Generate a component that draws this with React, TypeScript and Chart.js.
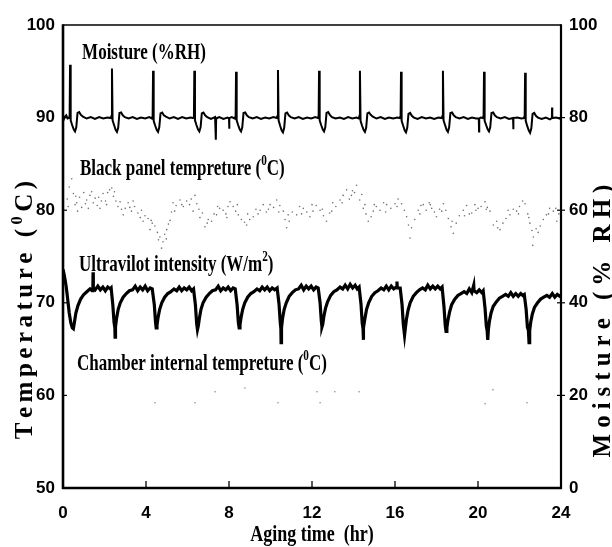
import { useEffect, useRef } from "react";
import { Chart, registerables } from "chart.js";

Chart.register(...registerables);

// ---------------- data ----------------
const X_TICKS = [0, 4, 8, 12, 16, 20, 24];
const TEMP_TICKS = [50, 60, 70, 80, 90, 100];
const RH_TICKS = [0, 20, 40, 60, 80, 100];

// Moisture (%RH) – right axis [hour, %RH]
const moisture: [number, number][] = [
  [0.00,80.4],[0.05,79.7],[0.10,80.2],[0.16,80.5],[0.22,79.8],[0.28,79.9],[0.32,80.4],[0.34,91.4],[0.37,79.4],[0.44,78.4],[0.52,77.4],[0.58,77.0],[0.64,77.9],[0.70,81.0],[0.78,81.2],[0.86,80.6],[0.96,80.2],[1.14,79.8],[1.34,80.1],[1.54,79.7],[1.74,80.1],[1.94,79.8],[2.14,80.0],
  [2.30,79.9],[2.34,80.4],[2.36,90.6],[2.39,79.4],[2.46,78.4],[2.54,77.3],[2.60,76.9],[2.66,77.8],[2.72,81.0],[2.80,81.1],[2.88,80.5],[2.98,80.1],[3.16,79.8],[3.36,80.1],[3.56,79.7],[3.76,80.0],[3.96,79.8],[4.16,80.1],
  [4.28,79.8],[4.32,80.4],[4.34,90.1],[4.37,79.3],[4.44,78.3],[4.52,77.3],[4.58,76.9],[4.64,77.9],[4.70,80.9],[4.78,81.1],[4.86,80.5],[4.96,80.2],[5.14,79.8],[5.34,80.1],[5.54,79.7],[5.74,80.1],[5.94,79.8],[6.14,80.0],
  [6.27,79.9],[6.31,80.4],[6.33,90.1],[6.36,79.4],[6.43,78.4],[6.51,77.4],[6.57,77.0],[6.63,77.9],[6.69,80.9],[6.77,81.1],[6.85,80.5],[6.95,80.1],[7.13,79.7],[7.33,80.1],[7.36,79.8],[7.37,75.2],[7.38,79.8],[7.53,80.1],[7.73,79.7],[7.93,80.0],[8.00,79.8],[8.01,77.6],[8.02,79.9],[8.13,80.1],
  [8.28,79.8],[8.32,80.4],[8.34,89.9],[8.37,79.4],[8.44,78.4],[8.52,77.4],[8.58,77.0],[8.64,77.9],[8.70,81.0],[8.78,81.1],[8.86,80.5],[8.96,80.1],[9.14,79.8],[9.34,80.1],[9.54,79.7],[9.74,80.0],[9.94,79.8],[10.14,80.1],
  [10.30,79.9],[10.34,80.4],[10.36,90.3],[10.39,79.4],[10.46,78.3],[10.54,77.2],[10.60,76.8],[10.66,77.8],[10.72,80.9],[10.80,81.1],[10.88,80.5],[10.98,80.1],[11.16,79.8],[11.36,80.1],[11.56,79.7],[11.76,80.0],[11.96,79.8],[12.16,80.1],
  [12.28,79.9],[12.32,80.4],[12.34,90.1],[12.37,79.4],[12.44,78.4],[12.52,77.4],[12.58,77.0],[12.64,77.9],[12.70,81.0],[12.78,81.2],[12.86,80.6],[12.96,80.1],[13.14,79.8],[13.34,80.0],[13.54,79.7],[13.74,80.1],[13.94,79.8],[14.14,80.0],
  [14.25,79.8],[14.29,80.4],[14.31,90.1],[14.34,79.3],[14.41,78.3],[14.49,77.3],[14.55,76.9],[14.61,77.8],[14.67,80.9],[14.75,81.1],[14.83,80.6],[14.93,80.2],[15.11,79.8],[15.31,80.1],[15.51,79.7],[15.71,80.0],[15.91,79.8],[16.11,80.0],
  [16.23,79.9],[16.27,80.4],[16.29,89.9],[16.32,79.3],[16.39,78.3],[16.47,77.2],[16.53,76.8],[16.59,77.8],[16.65,80.8],[16.73,81.0],[16.81,80.4],[16.91,80.0],[17.09,79.7],[17.29,80.1],[17.49,79.8],[17.69,80.0],[17.89,79.7],[18.09,80.0],
  [18.25,79.9],[18.29,80.4],[18.31,90.1],[18.34,79.4],[18.41,78.4],[18.49,77.3],[18.55,76.9],[18.61,77.9],[18.67,81.0],[18.75,81.1],[18.83,80.5],[18.93,80.1],[19.11,79.8],[19.31,80.1],[19.51,79.7],[19.71,80.0],[19.91,79.8],[20.04,79.8],[20.05,77.0],[20.06,79.8],[20.13,80.0],
  [20.23,79.9],[20.27,80.4],[20.29,89.9],[20.32,79.3],[20.39,78.4],[20.47,77.4],[20.53,77.0],[20.59,77.9],[20.65,81.0],[20.73,81.1],[20.81,80.5],[20.91,80.1],[21.09,79.8],[21.29,80.1],[21.49,79.7],[21.69,79.9],[21.70,77.5],[21.71,79.9],[21.89,80.0],[22.09,79.8],
  [22.21,79.9],[22.25,80.4],[22.27,89.7],[22.30,79.3],[22.37,78.2],[22.45,77.2],[22.51,76.7],[22.57,77.7],[22.63,80.8],[22.71,81.0],[22.79,80.4],[22.89,80.0],[23.07,79.7],[23.27,80.0],[23.47,79.6],[23.56,79.9],[23.57,82.2],[23.58,79.9],[23.77,80.0],[24.00,79.7],
];

// Ultraviolet intensity – drawn on left axis scale [hour, value]
const uvIntensity: [number, number][] = [
  [0,73.6],[0.05,73.1],[0.1,72.5],[0.15,71.8],[0.2,70.9],[0.25,69.9],[0.3,68.9],[0.38,67.8],[0.45,67.3],[0.5,67.2],[0.55,67.9],[0.62,68.9],[0.72,69.7],[0.85,70.4],[1.0,70.9],[1.15,71.2],[1.3,71.5],[1.4,71.3],[1.44,71.6],[1.45,73.3],[1.46,71.6],[1.55,71.4],[1.68,71.8],[1.8,71.4],[1.92,71.7],[2.04,71.3],[2.16,71.7],[2.28,71.5],
  [2.32,71.6],[2.40,69.8],[2.46,67.9],[2.50,67.3],[2.51,66.3],[2.53,67.4],[2.58,68.3],[2.66,69.3],[2.76,70.0],[2.9,70.6],[3.05,71.0],[3.2,71.3],[3.35,71.4],[3.48,71.8],[3.6,71.3],[3.72,71.7],[3.84,71.4],[3.96,71.8],[4.08,71.3],[4.2,71.6],[4.3,71.5],
  [4.40,69.8],[4.46,67.9],[4.49,67.3],[4.53,67.6],[4.58,68.4],[4.66,69.3],[4.76,70.0],[4.9,70.6],[5.05,71.0],[5.2,71.2],[5.35,71.5],[5.48,71.3],[5.6,71.7],[5.72,71.3],[5.84,71.6],[5.96,71.4],[6.08,71.7],[6.2,71.3],[6.29,71.5],
  [6.38,69.8],[6.44,67.8],[6.48,67.1],[6.52,67.5],[6.57,68.3],[6.65,69.3],[6.75,70.0],[6.9,70.6],[7.05,71.0],[7.2,71.3],[7.35,71.4],[7.48,71.8],[7.6,71.3],[7.72,71.6],[7.84,71.4],[7.96,71.7],[8.08,71.3],[8.2,71.6],[8.3,71.5],
  [8.39,69.8],[8.45,67.9],[8.49,67.3],[8.53,67.6],[8.58,68.4],[8.66,69.3],[8.76,70.0],[8.9,70.6],[9.05,71.0],[9.2,71.2],[9.35,71.5],[9.48,71.3],[9.6,71.7],[9.72,71.4],[9.84,71.7],[9.96,71.3],[10.08,71.6],[10.2,71.4],[10.32,71.6],
  [10.41,69.9],[10.47,67.9],[10.5,67.2],[10.51,65.7],[10.53,67.3],[10.58,68.3],[10.66,69.3],[10.76,70.0],[10.9,70.7],[11.05,71.1],[11.2,71.4],[11.35,71.5],[11.48,71.9],[11.6,71.4],[11.72,71.8],[11.84,71.5],[11.96,71.8],[12.08,71.4],[12.2,71.7],[12.3,71.6],
  [12.39,70.0],[12.45,68.0],[12.48,67.4],[12.52,67.7],[12.57,68.5],[12.65,69.4],[12.75,70.1],[12.9,70.8],[13.05,71.2],[13.2,71.4],[13.35,71.7],[13.48,71.5],[13.6,71.9],[13.72,71.5],[13.84,72.0],[13.96,71.6],[14.08,71.9],[14.18,71.5],[14.27,71.7],
  [14.36,69.9],[14.42,67.8],[14.46,67.2],[14.47,66.0],[14.49,67.3],[14.55,68.3],[14.63,69.3],[14.73,70.0],[14.88,70.7],[15.03,71.1],[15.18,71.3],[15.33,71.6],[15.46,71.4],[15.58,71.8],[15.7,71.4],[15.82,71.8],[15.94,71.5],[16.06,71.7],[16.095,72.3],[16.11,71.6],[16.25,71.6],
  [16.34,69.8],[16.4,67.7],[16.46,66.5],[16.5,67.3],[16.55,68.2],[16.63,69.2],[16.73,70.0],[16.88,70.7],[17.03,71.1],[17.18,71.4],[17.33,71.6],[17.46,71.4],[17.58,71.9],[17.7,71.5],[17.82,71.8],[17.94,71.5],[18.06,71.8],[18.18,71.5],[18.27,71.7],
  [18.36,69.6],[18.42,67.6],[18.46,66.9],[18.5,67.3],[18.55,68.1],[18.63,69.0],[18.73,69.8],[18.88,70.4],[19.03,70.8],[19.18,71.0],[19.33,71.2],[19.46,71.0],[19.58,71.5],[19.7,71.1],[19.795,71.9],[19.81,71.3],[19.94,71.1],[20.06,71.4],[20.18,71.1],[20.25,71.3],
  [20.34,69.4],[20.4,67.5],[20.44,67.0],[20.47,66.0],[20.5,67.1],[20.55,68.0],[20.63,68.9],[20.73,69.6],[20.88,70.1],[21.03,70.5],[21.18,70.7],[21.33,70.9],[21.46,70.7],[21.58,71.1],[21.7,70.7],[21.82,71.0],[21.94,70.7],[22.06,71.0],[22.16,70.8],[22.23,70.9],
  [22.32,69.3],[22.38,67.4],[22.43,67.0],[22.46,65.7],[22.49,67.0],[22.54,67.9],[22.62,68.8],[22.72,69.5],[22.87,70.0],[23.02,70.4],[23.17,70.6],[23.32,70.8],[23.45,70.6],[23.58,71.0],[23.7,70.6],[23.82,70.9],[23.94,70.7],[24.0,70.8],
];

// Black panel temperature (°C) – scattered samples
const blackPanel: [number, number][] = [
  [0.2,81.2],[0.3,82.5],[0.42,83.4],[0.5,81.8],[0.58,80.6],[0.66,80.8],[0.7,79.9],[0.8,81.4],[0.9,80.3],[1.0,81.9],[1.14,81.1],[1.22,80.2],[1.3,81.6],[1.38,82.0],[1.46,80.8],[1.55,81.3],[1.65,80.5],[1.78,80.2],[1.85,81.0],[1.93,81.8],
  [2.05,81.0],[2.15,81.9],[2.25,82.2],[2.35,82.4],[2.43,81.5],[2.55,81.0],[2.65,80.4],[2.75,80.9],[2.9,79.5],[3.0,80.2],[3.14,80.8],[3.22,80.3],[3.3,79.9],[3.45,80.4],[3.61,79.7],[3.72,79.2],[3.86,78.8],[3.95,79.4],
  [4.1,79.1],[4.19,77.9],[4.3,78.6],[4.43,78.3],[4.55,77.6],[4.67,77.1],[4.75,75.9],[4.82,76.6],[4.9,77.4],[5.0,77.9],[5.08,78.5],[5.16,78.9],[5.23,79.8],[5.3,80.8],[5.45,80.5],[5.64,81.1],[5.8,80.4],[5.96,81.0],
  [6.1,80.6],[6.27,79.9],[6.36,81.6],[6.45,80.7],[6.6,79.2],[6.72,79.7],[6.84,78.2],[7.0,79.0],[7.16,78.8],[7.28,79.6],[7.4,79.5],[7.55,80.2],[7.72,80.0],[7.85,79.6],[7.95,80.4],
  [8.05,80.9],[8.2,80.4],[8.32,79.9],[8.45,79.5],[8.6,79.0],[8.75,78.7],[8.85,78.4],[9.0,79.0],[9.17,79.3],[9.3,80.1],[9.5,80.0],[9.65,80.6],[9.8,79.8],[9.98,80.6],
  [10.15,80.3],[10.3,81.1],[10.45,80.5],[10.62,79.9],[10.7,79.0],[10.78,78.1],[10.9,78.8],[11.05,79.8],[11.26,79.5],[11.4,80.4],[11.58,80.2],[11.75,79.8],[11.9,79.3],
  [12.05,79.9],[12.2,80.5],[12.39,80.0],[12.55,79.4],[12.7,78.8],[12.85,79.7],[13.0,80.8],[13.15,80.4],[13.35,81.1],[13.5,81.6],[13.67,82.2],[13.8,81.2],[13.9,81.6],
  [14.05,81.9],[14.15,82.7],[14.3,81.1],[14.4,81.7],[14.47,80.2],[14.6,79.6],[14.71,78.8],[14.85,79.3],[14.95,79.9],[15.1,80.4],[15.28,80.0],[15.45,80.8],[15.6,80.6],[15.8,80.2],
  [16.0,80.7],[16.15,81.2],[16.32,80.7],[16.45,80.0],[16.56,79.3],[16.72,77.0],[16.8,78.1],[16.95,79.0],[17.12,80.0],[17.25,80.5],[17.36,80.6],[17.5,80.0],[17.65,80.8],[17.77,80.2],[17.9,79.8],
  [18.0,79.3],[18.15,80.1],[18.33,80.7],[18.45,80.0],[18.57,79.1],[18.7,78.2],[18.81,77.5],[18.95,78.6],[19.1,79.4],[19.29,80.0],[19.45,80.5],[19.58,79.6],[19.7,79.7],[19.85,80.6],
  [20.0,80.2],[20.15,80.4],[20.34,80.9],[20.45,80.3],[20.58,79.9],[20.74,78.4],[20.9,78.8],[21.06,77.9],[21.2,78.6],[21.35,79.1],[21.54,79.5],[21.7,80.1],[21.86,79.9],
  [22.0,80.4],[22.15,81.0],[22.27,80.7],[22.4,79.6],[22.5,78.6],[22.6,77.8],[22.64,76.2],[22.67,77.1],[22.8,78.0],[23.0,78.3],[23.15,79.0],[23.3,79.5],[23.45,80.2],[23.63,79.9],[23.8,78.8],[23.9,79.6],
  // second pass of fainter samples inside the band
  [0.25,80.4],[0.62,81.5],[1.08,80.7],[1.72,81.4],[2.1,80.6],[2.48,82.0],[2.82,80.1],[3.38,81.0],[3.78,80.0],[4.25,78.9],[4.6,76.8],[4.98,76.9],[5.38,79.9],[5.72,80.6],[6.18,81.2],[6.55,80.1],[6.95,78.6],[7.45,80.4],[7.9,79.2],[8.4,80.6],[8.9,79.6],[9.4,79.6],[9.9,80.1],[10.4,79.8],[10.85,79.5],[11.5,79.6],[12.0,80.6],[12.5,80.1],[12.95,79.9],[13.45,80.8],[13.95,82.1],[14.55,80.6],[15.0,80.6],[15.55,79.8],[16.1,80.4],[16.65,78.4],[17.2,79.6],[17.7,80.6],[18.25,79.9],[18.75,78.8],[19.35,79.4],[19.9,80.0],[20.4,80.1],[20.95,78.1],[21.45,80.0],[21.95,79.6],[22.45,79.2],[22.9,77.6],[23.4,79.6],[23.75,80.2],
];

// Chamber internal temperature (°C) – sparse samples
const chamber: [number, number][] = [
  [4.43,59.2],[6.36,59.2],[7.33,60.4],[8.77,60.8],[10.36,59.2],[12.24,60.4],[12.39,59.2],[13.1,60.4],[14.27,60.4],[20.34,59.1],[20.72,60.6],[22.36,59.2],
];

// ---------------- text ----------------
type Part = { t: string; sup?: boolean };
const SERIF = '"Liberation Serif", "Times New Roman", serif';
const SANS = '"Liberation Sans", Arial, sans-serif';

// series labels anchored in data coordinates (hour, °C baseline)
const seriesLabels: { parts: Part[]; hour: number; temp: number }[] = [
  { parts: [{ t: "Moisture (%RH)" }], hour: 0.92, temp: 96.3 },
  { parts: [{ t: "Black panel tempreture (" }, { t: "0", sup: true }, { t: "C)" }], hour: 0.82, temp: 83.8 },
  { parts: [{ t: "Ultravilot intensity (W/m" }, { t: "2", sup: true }, { t: ")" }], hour: 0.77, temp: 73.45 },
  { parts: [{ t: "Chamber internal tempreture (" }, { t: "0", sup: true }, { t: "C)" }], hour: 0.67, temp: 62.75 },
];
const leftTitle: Part[] = [{ t: "Temperature (" }, { t: "0", sup: true }, { t: "C)" }];
const rightTitle: Part[] = [{ t: "Moisture (% RH)" }];
const xTitle: Part[] = [{ t: "Aging time  (hr)" }];

function runParts(ctx: CanvasRenderingContext2D, parts: Part[], size: number, spacing: number, draw: boolean, x0: number) {
  let x = x0;
  for (const p of parts) {
    const s = p.sup ? size * 0.66 : size;
    ctx.font = `bold ${s}px ${SERIF}`;
    const dy = p.sup ? -size * 0.42 : 0;
    const chunks = spacing ? Array.from(p.t) : [p.t];
    for (const ch of chunks) {
      if (draw) ctx.fillText(ch, x, dy);
      x += ctx.measureText(ch).width + spacing;
    }
  }
  return x - x0 - spacing;
}

function drawLabel(
  ctx: CanvasRenderingContext2D,
  parts: Part[],
  x: number,
  y: number,
  opts: { size: number; sy?: number; spacing?: number; rotate?: number; center?: boolean }
) {
  const spacing = opts.spacing ?? 0;
  ctx.save();
  ctx.translate(x, y);
  if (opts.rotate) ctx.rotate(opts.rotate);
  ctx.scale(1, opts.sy ?? 1);
  ctx.textAlign = "left";
  ctx.textBaseline = "alphabetic";
  ctx.fillStyle = "#000";
  const w = runParts(ctx, parts, opts.size, spacing, false, 0);
  runParts(ctx, parts, opts.size, spacing, true, opts.center ? -w / 2 : 0);
  ctx.restore();
}

function seg(ctx: CanvasRenderingContext2D, x1: number, y1: number, x2: number, y2: number, w: number) {
  ctx.lineWidth = w;
  ctx.beginPath();
  ctx.moveTo(x1, y1);
  ctx.lineTo(x2, y2);
  ctx.stroke();
}

const overlayPlugin = {
  id: "overlay",
  afterDraw(chart: any) {
    const { ctx, chartArea: a, scales } = chart;
    ctx.save();
    ctx.strokeStyle = "#000";
    // frame
    seg(ctx, a.left, a.top, a.right, a.top, 1.6);
    seg(ctx, a.left - 1, a.bottom, a.right + 1, a.bottom, 2.6);
    seg(ctx, a.left, a.top - 0.8, a.left, a.bottom + 1, 2.6);
    seg(ctx, a.right, a.top - 0.8, a.right, a.bottom + 1, 2.2);
    // inward tick marks
    for (const v of X_TICKS.slice(1, -1)) {
      const px = scales.x.getPixelForValue(v);
      seg(ctx, px, a.bottom, px, a.bottom - 7, 1.3);
    }
    for (const v of TEMP_TICKS.slice(1, -1)) {
      const py = scales.y.getPixelForValue(v);
      seg(ctx, a.left, py, a.left + 4, py, 1.2);
    }
    for (const v of RH_TICKS.slice(1, -1)) {
      const py = scales.y2.getPixelForValue(v);
      seg(ctx, a.right - 4, py, a.right + 4, py, 1.2);
    }
    // series labels
    for (const l of seriesLabels) {
      drawLabel(ctx, l.parts, scales.x.getPixelForValue(l.hour), scales.y.getPixelForValue(l.temp), { size: 17, sy: 1.35 });
    }
    // axis titles
    drawLabel(ctx, leftTitle, 32, a.top + 285, { size: 25, spacing: 4.5, rotate: -Math.PI / 2, center: true });
    drawLabel(ctx, rightTitle, 610, a.top + 296, { size: 25, spacing: 6, rotate: -Math.PI / 2, center: true });
    drawLabel(ctx, xTitle, (a.left + a.right) / 2, 541, { size: 18, sy: 1.3, center: true });
    ctx.restore();
  },
};

const toXY = (arr: [number, number][]) => arr.map(([x, y]) => ({ x, y }));

export default function App() {
  const ref = useRef<HTMLCanvasElement>(null);
  useEffect(() => {
    const tickFont = { family: SANS, size: 17, weight: "bold" as const };
    const chart = new Chart(ref.current!, {
      type: "line",
      data: {
        datasets: [
          {
            label: "Moisture",
            data: toXY(moisture),
            yAxisID: "y2",
            borderColor: "#000",
            borderWidth: 2,
            pointRadius: 0,
            tension: 0,
          },
          {
            label: "Ultravilot intensity",
            data: toXY(uvIntensity),
            yAxisID: "y",
            borderColor: "#000",
            borderWidth: 3.2,
            pointRadius: 0,
            tension: 0,
          },
          {
            label: "Black panel",
            data: toXY(blackPanel),
            yAxisID: "y",
            showLine: false,
            pointRadius: 0.8,
            pointBorderWidth: 0,
            pointBackgroundColor: "#707070",
          },
          {
            label: "Chamber",
            data: toXY(chamber),
            yAxisID: "y",
            showLine: false,
            pointRadius: 0.8,
            pointBorderWidth: 0,
            pointBackgroundColor: "#8a8a8a",
          },
        ],
      },
      options: {
        responsive: false,
        animation: false,
        events: [],
        layout: { padding: { top: 25, left: 0, right: 0, bottom: 0 } },
        plugins: { legend: { display: false }, tooltip: { enabled: false } },
        scales: {
          x: {
            type: "linear",
            min: 0,
            max: 24,
            afterFit: (s: any) => { s.height = 59; },
            afterBuildTicks: (s: any) => { s.ticks = X_TICKS.map((v) => ({ value: v })); },
            grid: { display: false, drawTicks: false },
            border: { display: false },
            ticks: { font: tickFont, color: "#000", padding: 15, maxRotation: 0 },
          },
          y: {
            type: "linear",
            position: "left",
            min: 50,
            max: 100,
            afterFit: (s: any) => { s.width = 63; },
            afterBuildTicks: (s: any) => { s.ticks = TEMP_TICKS.map((v) => ({ value: v })); },
            grid: { display: false, drawTicks: false },
            border: { display: false },
            ticks: { font: tickFont, color: "#000", padding: 8 },
          },
          y2: {
            type: "linear",
            position: "right",
            min: 0,
            max: 100,
            afterFit: (s: any) => { s.width = 51; },
            afterBuildTicks: (s: any) => { s.ticks = RH_TICKS.map((v) => ({ value: v })); },
            grid: { display: false, drawTicks: false },
            border: { display: false },
            ticks: { font: tickFont, color: "#000", padding: 8 },
          },
        },
      },
      plugins: [overlayPlugin],
    } as any);
    return () => chart.destroy();
  }, []);
  return (
    <div style={{ position: "absolute", left: 0, top: 0, width: 612, height: 547, background: "#fff" }}>
      <canvas ref={ref} width={612} height={547} style={{ display: "block", width: 612, height: 547 }} />
    </div>
  );
}
